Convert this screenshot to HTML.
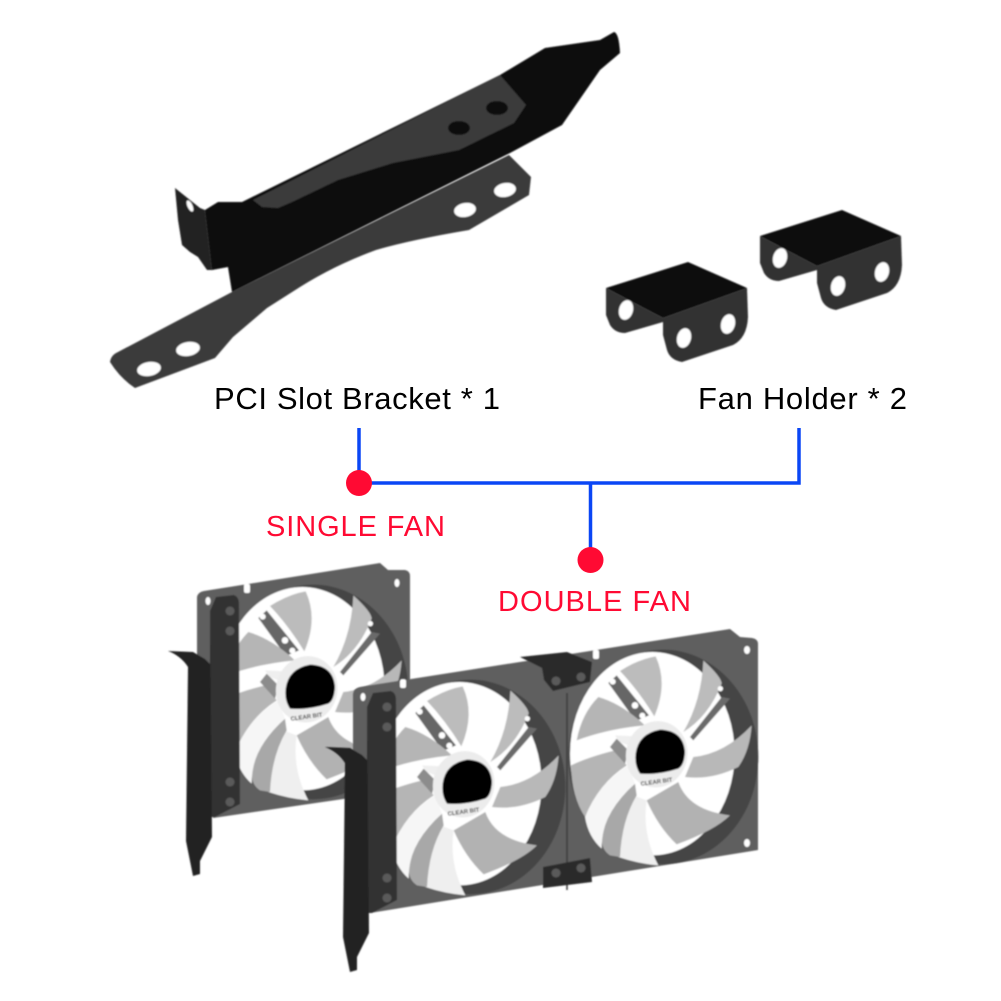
<!DOCTYPE html>
<html>
<head>
<meta charset="utf-8">
<style>
html,body{margin:0;padding:0;background:#fff;}
svg{display:block;}
text{font-family:"Liberation Sans",sans-serif;}
</style>
</head>
<body>
<svg width="1001" height="1001" viewBox="0 0 1001 1001" xmlns="http://www.w3.org/2000/svg">
<defs>
<filter id="soft" x="-5%" y="-5%" width="110%" height="110%"><feGaussianBlur stdDeviation="0.7"/></filter>
<g id="holder">
  <path d="M606 288 L688 262 L747 288 L663 318Z" fill="#111"/>
  <path d="M606 288 L663 318 L663 322 L625 333 Q615 333 610 325 L606 315Z" fill="#333"/>
  <path d="M663 318 L747 288 L748 317 Q747 338 733 345 L682 362 Q670 360 667 350 L663 335Z" fill="#333"/>
  <ellipse cx="626" cy="310" rx="7" ry="10" transform="rotate(15 626 310)" fill="#fff"/>
  <ellipse cx="684" cy="338" rx="7" ry="10" transform="rotate(15 684 338)" fill="#fff"/>
  <ellipse cx="728" cy="324" rx="7" ry="10" transform="rotate(15 728 324)" fill="#fff"/>
</g>
<g id="pci">
  <path d="M367 707 L373 693 L391 691 Q396 693 396 700 L397 900 L372 913 L367 913Z" fill="#333"/>
  <path d="M325 747 L350 748 L362 755 L367 760 L367 707 L369 933 L357 957 L357 970 L350 972 L343 937 L345 763 Q338 752 325 747Z" fill="#232323"/>
  <circle cx="387" cy="707" r="4.500" fill="#5a5a5a"/>
  <circle cx="387" cy="727" r="4.500" fill="#5a5a5a"/>
  <circle cx="387" cy="878" r="4.500" fill="#5a5a5a"/>
  <circle cx="387" cy="898" r="4.500" fill="#5a5a5a"/>
</g>
<g id="fan">
  <g transform="translate(660 752) scale(.3333) translate(-285 -335)">
    <ellipse cx="295" cy="350" rx="285" ry="322" fill="#454545"/>
    <ellipse cx="262" cy="340" rx="247" ry="305" fill="#fff"/>
    <path d="M130 128 L155 105 L252 225 L212 242Z" fill="#666"/>
    <circle cx="143" cy="124" r="9" fill="#fff"/>
    <circle cx="210" cy="195" r="10" fill="#fff"/>
    <circle cx="232" cy="226" r="9" fill="#fff"/>
    <path d="M375 290 L470 170 L495 175 L385 300Z" fill="#6a6a6a"/>
    <path d="M185 80 Q230 55 272 48 Q310 130 268 228 Q220 150 165 92Z" fill="#bcbcbc"/>
    <path d="M415 60 Q470 110 470 130 Q430 230 355 275 Q410 180 415 60Z" fill="#bcbcbc"/>
    <circle cx="466" cy="145" r="8" fill="#fff"/>
    <path d="M100 170 Q170 190 240 255 Q130 265 35 300 Q50 220 100 170Z" fill="#b5b5b5"/>
    <path d="M385 350 Q480 340 560 255 Q555 330 520 380 Q440 420 360 410Z" fill="#b8b8b8"/>
    <path d="M340 425 Q370 510 495 525 Q450 570 335 612 Q280 560 245 480Z" fill="#b2b2b2"/>
    <path d="M205 465 Q170 540 160 650 Q220 670 280 675 Q230 580 245 480Z" fill="#efefef"/>
    <path d="M210 430 Q120 510 110 600 Q112 630 135 645 L165 650 Q170 540 215 465Z" fill="#a8a8a8"/>
    <path d="M190 375 Q90 440 60 530 Q70 590 110 625 Q110 510 210 430Z" fill="#f6f6f6"/>
    <path d="M150 330 Q70 350 18 375 Q20 470 60 530 Q100 430 185 375Z" fill="#b5b5b5"/>
    <path d="M150 285 L215 288 L215 325 L165 305Z" fill="#efefef"/>
    <path d="M135 320 L155 295 L190 330 L180 370Z" fill="#8c8c8c"/>
    <ellipse cx="275" cy="342" rx="92" ry="100" fill="#ececec" transform="rotate(15 275 342)"/>
    <path d="M212 340 Q220 280 285 268 Q355 270 360 335 Q358 375 340 385 Q280 405 225 400 Q208 375 212 340Z" fill="#050505"/>
    <text x="275" y="430" font-size="18" font-weight="bold" fill="#444" text-anchor="middle" transform="rotate(-8 275 430)">CLEAR BIT</text>
  </g>
</g>
</defs>

<!-- PCI slot bracket -->
<g filter="url(#soft)">
  <path d="M175 188 L200 208 L205 210 L212 270 L207 270 L198 257 L190 252 L182 245 L178 220Z" fill="#222"/>
  <ellipse cx="190" cy="206" rx="2.500" ry="6" transform="rotate(-25 190 206)" fill="#fff"/>
  <path d="M205 210 L218 202 L242 202 L500 75 L545 48 L600 40 L614 32 Q619 33 620 53 L600 70 L562 125 L510 153 L232 292 L228 267 L212 270Z" fill="#0c0c0c"/>
  <path d="M253 200 L500 75 L526 105 L514 123 L459 150 L393 163 L338 180 L292 202 L278 208 L262 207Z" fill="#3b3b3b"/>
  <ellipse cx="459" cy="128" rx="11" ry="7" fill="#101010"/>
  <ellipse cx="497" cy="108" rx="11" ry="7" fill="#101010"/>
  <path d="M232 292 L509 155 L531 177 L529 195 L469 230 Q410 240 376 250 Q335 265 300 287 L267 308 L233 337 L215 358 L135 388 Q120 378 110 362 Q111 355 118 352Z" fill="#3a3a3a"/>
  <ellipse cx="505" cy="190" rx="11" ry="7" transform="rotate(-10 505 190)" fill="#fff"/>
  <ellipse cx="465" cy="210" rx="11" ry="7" transform="rotate(-10 465 210)" fill="#fff"/>
  <ellipse cx="188" cy="349" rx="12" ry="7" transform="rotate(-10 188 349)" fill="#fff"/>
  <ellipse cx="149" cy="369" rx="12" ry="7" transform="rotate(-10 149 369)" fill="#fff"/>
</g>

<!-- Fan holders -->
<g filter="url(#soft)">
  <use href="#holder"/>
  <use href="#holder" transform="translate(154 -52)"/>
</g>

<!-- Labels -->
<text x="214" y="409" font-size="31" fill="#000" textLength="286" lengthAdjust="spacing">PCI Slot Bracket * 1</text>
<text x="698" y="409" font-size="31" fill="#000" textLength="209" lengthAdjust="spacing">Fan Holder * 2</text>
<text x="266" y="536" font-size="29" fill="#ff0a33" textLength="179" lengthAdjust="spacing">SINGLE FAN</text>
<text x="498" y="611" font-size="29" fill="#ff0a33" textLength="193" lengthAdjust="spacing">DOUBLE FAN</text>

<!-- Connectors -->
<path d="M359 428 V483 H799 V428 M590.500 483 V555" fill="none" stroke="#0a46f5" stroke-width="3.500"/>
<circle cx="359" cy="483" r="13" fill="#ff0a33"/>
<circle cx="590.500" cy="560" r="13" fill="#ff0a33"/>

<!-- Single fan -->
<g filter="url(#soft)">
  <path d="M197 597 Q198 592 204 591 L380 563 L388 570 L405 570 Q410 571 410 576 L410 700 L350 798 L213 818 L197 660Z" fill="#5f5f5f"/>
  <use href="#fan" transform="translate(-350 -65)"/>
  <use href="#pci" transform="translate(-157 -96)"/>
  <ellipse cx="208" cy="601" rx="2.500" ry="4" fill="#fff"/>
  <rect x="244" y="584" width="6" height="9" rx="2" fill="#fff"/>
  <ellipse cx="397" cy="583" rx="2.500" ry="4" fill="#fff"/>
</g>

<!-- Double fan -->
<g filter="url(#soft)">
  <path d="M353 694 Q354 688 360 687 L730 629 L740 637 L752 638 Q758 639 758 644 L758 850 L370 913 L353 760Z" fill="#5f5f5f"/>
  <use href="#fan"/>
  <use href="#fan" transform="translate(-193 30)"/>
  <line x1="567" y1="693" x2="567" y2="890" stroke="#3a3a3a" stroke-width="1.500"/>
  <path d="M520 657 L567 652 L592 662 L590 682 L553 691 L544 680 L542 668Z" fill="#2b2b2b"/>
  <path d="M543 867 L590 858 L592 882 L543 888Z" fill="#2b2b2b"/>
  <circle cx="556" cy="681" r="4.500" fill="#5a5a5a"/>
  <circle cx="581" cy="677" r="4.500" fill="#5a5a5a"/>
  <circle cx="556" cy="873" r="4.500" fill="#5a5a5a"/>
  <circle cx="581" cy="868" r="4.500" fill="#5a5a5a"/>
  <use href="#pci"/>
  <ellipse cx="363" cy="697" rx="2.500" ry="4" fill="#fff"/>
  <rect x="400" y="679" width="6" height="9" rx="2" fill="#fff"/>
  <rect x="593" y="650" width="6" height="9" rx="2" fill="#fff"/>
  <ellipse cx="747" cy="650" rx="3" ry="4" fill="#fff"/>
  <ellipse cx="747" cy="843" rx="3" ry="4" fill="#fff"/>
</g>
</svg>
</body>
</html>
